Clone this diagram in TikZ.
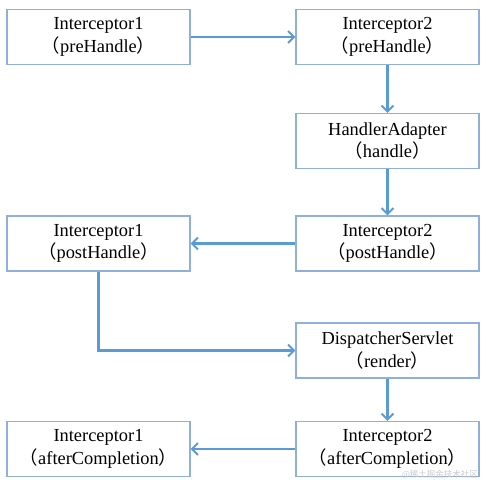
\documentclass[tikz,border=0pt]{standalone}
\usepackage{fontspec}
\setmainfont{Liberation Serif}
\newfontfamily\cjk{Noto Sans CJK SC}
\usetikzlibrary{arrows.meta}
\definecolor{boxline}{HTML}{8FB0DC}
\definecolor{arrowc}{HTML}{5B9BD5}
\tikzset{
  stepbox/.style={draw=boxline, line width=1.1pt, minimum width=183pt, minimum height=55pt,
    inner sep=0pt, align=center, font=\fontsize{18.4}{22.7}\selectfont},
  conn/.style={draw=arrowc, line width=2.2pt, -{Straight Barb[length=6pt,width=12pt,line width=2pt]}},
}
\newcommand{\lp}{{\cjk （}}
\newcommand{\rp}{{\cjk ）}}
\begin{document}
\begin{tikzpicture}[x=1pt,y=-1pt]
\useasboundingbox (0,0) rectangle (492,486);
\node[stepbox] (a) at (98.5,37) {Interceptor1\\\lp preHandle\rp};
\node[stepbox] (b) at (387.5,37) {Interceptor2\\\lp preHandle\rp};
\node[stepbox] (c) at (387.5,141) {HandlerAdapter\\\lp handle\rp};
\node[stepbox] (d) at (387.5,243.5) {Interceptor2\\\lp postHandle\rp};
\node[stepbox] (e) at (98.5,243.5) {Interceptor1\\\lp postHandle\rp};
\node[stepbox] (f) at (387.5,350.5) {DispatcherServlet\\\lp render\rp};
\node[stepbox] (g) at (387.5,449) {Interceptor2\\\lp afterCompletion\rp};
\node[stepbox] (h) at (98.5,449) {Interceptor1\\\lp afterCompletion\rp};
\draw[conn] (a) -- (b);
\draw[conn] (b) -- (c);
\draw[conn] (c) -- (d);
\draw[conn] (d) -- (e);
\draw[conn] (e.south) |- (f.west);
\draw[conn] (f) -- (g);
\draw[conn] (g) -- (h);
\node[text=gray!40, font=\cjk\fontsize{8.5}{10}\selectfont, anchor=east, inner sep=0pt] (wm) at (478,475) {@稀土掘金技术社区};
\end{tikzpicture}
\end{document}
